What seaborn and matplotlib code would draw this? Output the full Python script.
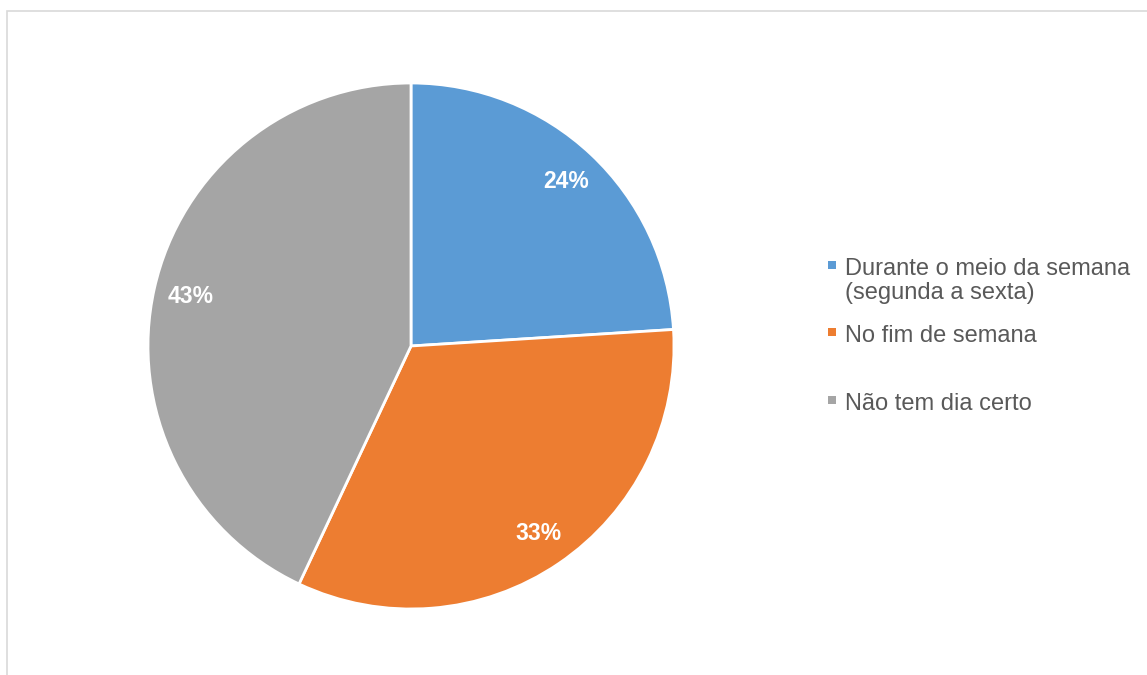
import matplotlib
matplotlib.use("Agg")
import matplotlib.pyplot as plt
from matplotlib.patches import Rectangle
import seaborn as sns

categories = ["Durante o meio da semana\n(segunda a sexta)", "No fim de semana", "Não tem dia certo"]
values = [24, 33, 43]
colors = ["#5B9BD5", "#ED7D31", "#A5A5A5"]

sns.set_theme(style="white")
plt.rcParams['font.family'] = ['Liberation Sans', 'DejaVu Sans']

W, H = 1147, 675
fig = plt.figure(figsize=(W / 100, H / 100), dpi=100)
fig.patch.set_facecolor("white")

# chart frame (partially visible)
fig.add_artist(Rectangle((7.5 / W, -0.01), 1.02, (H - 11) / H + 0.01, transform=fig.transFigure,
                         fill=False, edgecolor="#D9D9D9", linewidth=1.2))

cx, cy, r = 411, 346, 263
ax = fig.add_axes([(cx - r) / W, (H - cy - r) / H, 2 * r / W, 2 * r / H])
wedges, texts, autotexts = ax.pie(values, colors=colors, startangle=90, counterclock=False,
                                  autopct=lambda p: f"{p:.0f}%", pctdistance=0.86,
                                  wedgeprops=dict(edgecolor="white", linewidth=2),
                                  textprops=dict(color="white", fontsize=16.5, fontweight="bold"))
ax.set_xlim(-1.0, 1.0)
ax.set_ylim(-1.0, 1.0)
ax.axis("off")

# legend
baselines = [275, 342, 410]
for lab, col, yb in zip(categories, colors, baselines):
    fig.add_artist(Rectangle((828 / W, (H - yb + 6) / H), 8 / W, 8 / H, transform=fig.transFigure,
                             facecolor=col, edgecolor="none"))
    for i, line in enumerate(lab.split("\n")):
        fig.text(845 / W, (H - yb - 24.5 * i) / H, line, fontsize=17, color="#595959",
                 va="baseline", ha="left")

fig.savefig("out.png", dpi=100, facecolor="white")
